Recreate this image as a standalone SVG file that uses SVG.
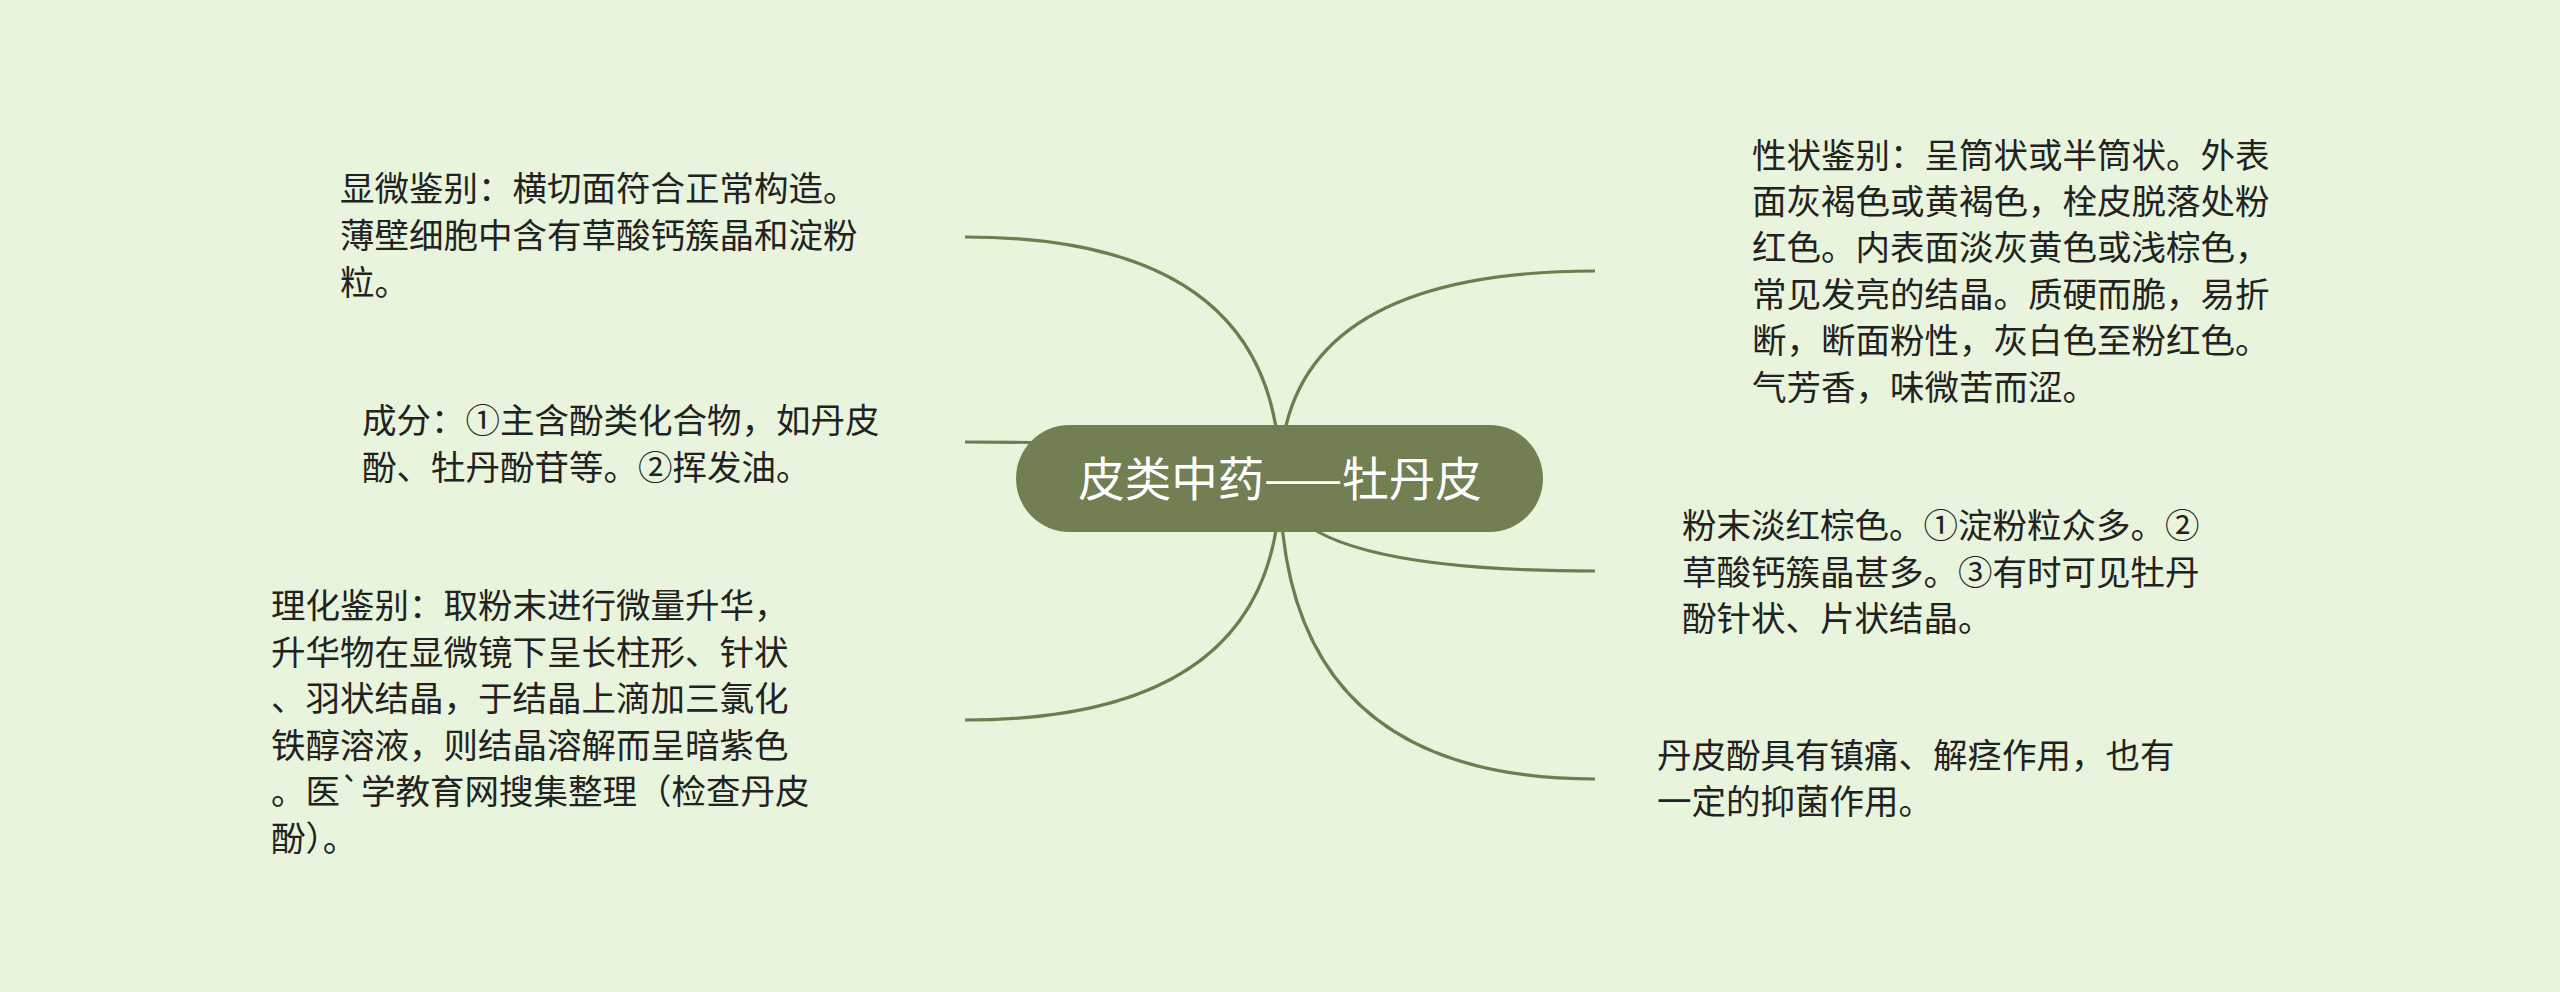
<svg xmlns="http://www.w3.org/2000/svg" width="2560" height="992" viewBox="0 0 2560 992">
<style>
.bg{fill:#e8f4dc}
.link{fill:none;stroke:#6f7c4f;stroke-width:3.2}
.root{fill:#717f52}
.rt{font-family:"Noto Sans CJK SC","Noto Sans",sans-serif;font-size:46.5px;fill:#ffffff}
.t{font-family:"Noto Sans CJK SC","Noto Sans",sans-serif;font-size:34.5px;fill:#222222}
</style>
<rect class="bg" x="0" y="0" width="2560" height="992"/>
<g id="connectors">
<path class="link" d="M1280 479 Q1280 237 965 237"/>
<path class="link" d="M1280 479 Q1280 442 965 442"/>
<path class="link" d="M1280 479 Q1280 720 965 720"/>
<path class="link" d="M1280 479 Q1280 271 1595 271"/>
<path class="link" d="M1280 479 Q1280 571 1595 571"/>
<path class="link" d="M1280 479 Q1280 779 1595 779"/>
</g>
<g id="root">
<rect class="root" x="1016" y="425" width="527" height="107" rx="53.5"/>
<text class="rt" x="1280" y="496" text-anchor="middle">皮类中药——牡丹皮</text>
</g>
<g id="n-xianwei">
<text class="t" x="340" y="201">显微鉴别：横切面符合正常构造。</text>
<text class="t" x="340" y="248">薄壁细胞中含有草酸钙簇晶和淀粉</text>
<text class="t" x="340" y="295">粒。</text>
</g>
<g id="n-chengfen">
<text class="t" x="362" y="433">成分：①主含酚类化合物，如丹皮</text>
<text class="t" x="362" y="480">酚、牡丹酚苷等。②挥发油。</text>
</g>
<g id="n-lihua">
<text class="t" x="271" y="618">理化鉴别：取粉末进行微量升华，</text>
<text class="t" x="271" y="665">升华物在显微镜下呈长柱形、针状</text>
<text class="t" x="271" y="711">、羽状结晶，于结晶上滴加三氯化</text>
<text class="t" x="271" y="758">铁醇溶液，则结晶溶解而呈暗紫色</text>
<text class="t" x="271" y="804">。医`学教育网搜集整理（检查丹皮</text>
<text class="t" x="271" y="851">酚）。</text>
</g>
<g id="n-xingzhuang">
<text class="t" x="1752" y="168">性状鉴别：呈筒状或半筒状。外表</text>
<text class="t" x="1752" y="214">面灰褐色或黄褐色，栓皮脱落处粉</text>
<text class="t" x="1752" y="260">红色。内表面淡灰黄色或浅棕色，</text>
<text class="t" x="1752" y="307">常见发亮的结晶。质硬而脆，易折</text>
<text class="t" x="1752" y="353">断，断面粉性，灰白色至粉红色。</text>
<text class="t" x="1752" y="400">气芳香，味微苦而涩。</text>
</g>
<g id="n-fenmo">
<text class="t" x="1682" y="538">粉末淡红棕色。①淀粉粒众多。②</text>
<text class="t" x="1682" y="585">草酸钙簇晶甚多。③有时可见牡丹</text>
<text class="t" x="1682" y="631">酚针状、片状结晶。</text>
</g>
<g id="n-zuoyong">
<text class="t" x="1657" y="768">丹皮酚具有镇痛、解痉作用，也有</text>
<text class="t" x="1657" y="814">一定的抑菌作用。</text>
</g>
</svg>
